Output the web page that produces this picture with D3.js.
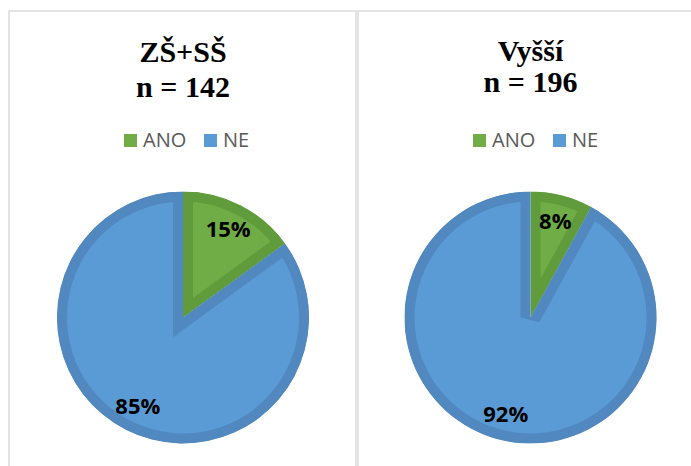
<!DOCTYPE html>
<html>
<head>
<meta charset="utf-8">
<script src="https://cdn.jsdelivr.net/npm/d3@7.9.0/dist/d3.min.js"></script>
<style>
  body { margin: 0; background: #fff; }
  svg { display: block; }
</style>
</head>
<body>
<svg id="chart" width="691" height="466"></svg>
<script>
// data
const groups = ['ZŠ+SŠ', 'Vyšší'];
const sampleSizes = [142, 196];
const answers = ['ANO', 'NE'];
const shares = [
  [15, 85],
  [8, 92],
];

const fillColors = ['#70ad47', '#5b9bd5'];
const edgeColors = ['#609b3c', '#5088bf'];

const svg = d3.select('#chart');
const defs = svg.append('defs');

// panel frames
const panels = [
  { x: 9, w: 347, cx: 183, titleY: [62, 97], legendX: 124 },
  { x: 358, w: 360, cx: 530.5, titleY: [61, 92], legendX: 473 },
];

const radius = 126;
const pie = d3.pie().sort(null).value((d) => d);
const arc = d3.arc().innerRadius(0).outerRadius(radius);
const labelArc = d3.arc().innerRadius(radius * 0.79).outerRadius(radius * 0.79);

panels.forEach((p, gi) => {
  svg
    .append('rect')
    .attr('x', p.x)
    .attr('y', 11)
    .attr('width', p.w)
    .attr('height', 480)
    .attr('fill', 'none')
    .attr('stroke', '#d9d9d9')
    .attr('stroke-width', 1.4);

  const title = svg
    .append('text')
    .attr('text-anchor', 'middle')
    .attr('font-family', '"Liberation Serif", serif')
    .attr('font-weight', 'bold')
    .attr('font-size', 30)
    .attr('fill', '#000');
  title.append('tspan').attr('x', p.cx).attr('y', p.titleY[0]).text(groups[gi]);
  title.append('tspan').attr('x', p.cx).attr('y', p.titleY[1]).text(`n = ${sampleSizes[gi]}`);

  // legend
  const legend = svg.append('g').attr('transform', `translate(${p.legendX},134)`);
  const offsets = [0, 80];
  answers.forEach((a, i) => {
    const item = legend.append('g').attr('transform', `translate(${offsets[i]},0)`);
    item.append('rect').attr('width', 13).attr('height', 13).attr('fill', fillColors[i]);
    item
      .append('text')
      .attr('x', 19)
      .attr('y', 13)
      .attr('font-family', '"Open Sans", sans-serif')
      .attr('font-size', 20)
      .attr('fill', '#595959')
      .text(a);
  });

  // pie with a darker inner edge on every slice
  const g = svg.append('g').attr('transform', `translate(${p.cx},317.5)`);
  const arcs = pie(shares[gi]);
  arcs.forEach((d, i) => {
    const id = `clip-${gi}-${i}`;
    defs.append('clipPath').attr('id', id).append('path').attr('d', arc(d));
    g.append('path')
      .attr('d', arc(d))
      .attr('fill', fillColors[i])
      .attr('stroke', edgeColors[i])
      .attr('stroke-width', 20)
      .attr('stroke-linejoin', 'miter')
      .attr('clip-path', `url(#${id})`);
  });
  arcs.forEach((d, i) => {
    const [lx, ly] = labelArc.centroid(d);
    g.append('text')
      .attr('x', lx)
      .attr('y', ly)
      .attr('dy', '0.36em')
      .attr('text-anchor', 'middle')
      .attr('font-family', '"Open Sans", sans-serif')
      .attr('font-weight', 'bold')
      .attr('font-size', 22)
      .attr('fill', '#000')
      .text(`${shares[gi][i]}%`);
  });
});
</script>
</body>
</html>
